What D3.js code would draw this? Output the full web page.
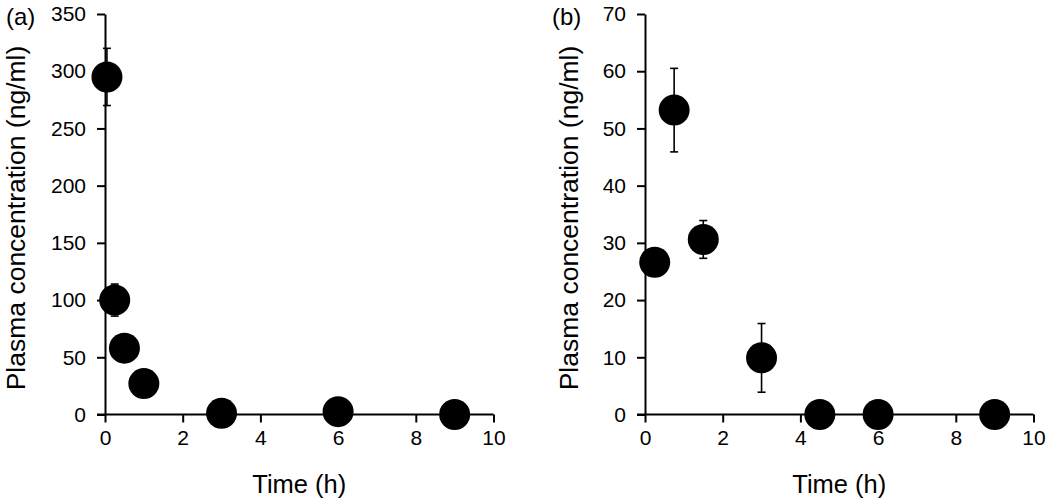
<!DOCTYPE html>
<html>
<head>
<meta charset="utf-8">
<script src="https://cdn.jsdelivr.net/npm/d3@7"></script>
<style>
  body { margin: 0; background: #fff; }
  svg { display: block; }
  text { font-family: "Liberation Sans", Arial, sans-serif; fill: #000; }
</style>
</head>
<body>
<svg id="chart" width="1050" height="504"></svg>
<script>
// ---- data ----
const timeA = [0.05, 0.25, 0.5, 1, 3, 6, 9];
const concA = [295, 100, 58, 27, 1, 2.5, 0];
const sdA   = [25, 14, 0, 0, 0, 0, 0];

const timeB = [0.25, 0.75, 1.5, 3, 4.5, 6, 9];
const concB = [26.6, 53.2, 30.6, 9.9, 0, 0, 0];
const sdB   = [0, 7.3, 3.3, 6, 0, 0, 0];

const xTicks = [0, 2, 4, 6, 8, 10];
const yTicksA = [0, 50, 100, 150, 200, 250, 300, 350];
const yTicksB = [0, 10, 20, 30, 40, 50, 60, 70];

const panels = [
  { tag: '(a)', t: timeA, c: concA, sd: sdA, yMax: 350, yTicks: yTicksA, left: 105, titleX: 25, tagX: 6 },
  { tag: '(b)', t: timeB, c: concB, sd: sdB, yMax: 70, yTicks: yTicksB, left: 645, titleX: 578, tagX: 552 }
];

const svg = d3.select('#chart');
const plotTop = 14, plotBottom = 414.5, plotW = 388.5;
const tickFont = 21, titleFont = 26.5, tagFont = 24;
const r = 15.5;
const capHalf = 4;

panels.forEach(p => {
  const x = d3.scaleLinear().domain([0, 10]).range([p.left, p.left + plotW]);
  const y = d3.scaleLinear().domain([0, p.yMax]).range([plotBottom, plotTop]);
  const g = svg.append('g');

  // axes
  const xAxis = g.append('g')
    .attr('transform', `translate(0,${plotBottom})`)
    .call(d3.axisBottom(x).tickValues(xTicks).tickSize(8).tickSizeOuter(0).tickPadding(8).tickFormat(d3.format('d')));
  const yAxis = g.append('g')
    .attr('transform', `translate(${p.left},0)`)
    .call(d3.axisLeft(y).tickValues(p.yTicks).tickSize(8).tickSizeOuter(0).tickPadding(11).tickFormat(d3.format('d')));
  [xAxis, yAxis].forEach(a => {
    a.selectAll('path, line').attr('stroke', '#000').attr('stroke-width', 2);
    a.selectAll('text').style('font-size', tickFont + 'px')
      .style('font-family', '"Liberation Sans", Arial, sans-serif');
  });
  // extend x axis domain to meet leftward tick
  xAxis.select('.domain').attr('d', `M${p.left - 8},0H${p.left + plotW}`);

  // axis titles
  g.append('text')
    .attr('x', p.left + plotW / 2).attr('y', 493)
    .attr('text-anchor', 'middle')
    .style('font-size', '25.5px')
    .text('Time (h)');
  g.append('text')
    .attr('transform', `translate(${p.titleX},218) rotate(-90)`)
    .attr('text-anchor', 'middle')
    .style('font-size', titleFont + 'px')
    .text('Plasma concentration (ng/ml)');
  g.append('text')
    .attr('x', p.tagX).attr('y', 25)
    .style('font-size', tagFont + 'px')
    .text(p.tag);

  const pts = p.t.map((t, i) => ({ t: t, c: p.c[i], sd: p.sd[i] }));

  // error bars
  const eb = g.append('g').attr('stroke', '#000').attr('stroke-width', 1.6);
  pts.filter(d => d.sd > 0).forEach(d => {
    const cx = x(d.t);
    eb.append('line').attr('x1', cx).attr('x2', cx).attr('y1', y(d.c + d.sd)).attr('y2', y(d.c - d.sd));
    eb.append('line').attr('x1', cx - capHalf).attr('x2', cx + capHalf).attr('y1', y(d.c + d.sd)).attr('y2', y(d.c + d.sd));
    eb.append('line').attr('x1', cx - capHalf).attr('x2', cx + capHalf).attr('y1', y(d.c - d.sd)).attr('y2', y(d.c - d.sd));
  });

  // points
  g.append('g').selectAll('circle').data(pts).join('circle')
    .attr('cx', d => x(d.t)).attr('cy', d => y(d.c)).attr('r', r)
    .attr('fill', '#000');
});
</script>
</body>
</html>
